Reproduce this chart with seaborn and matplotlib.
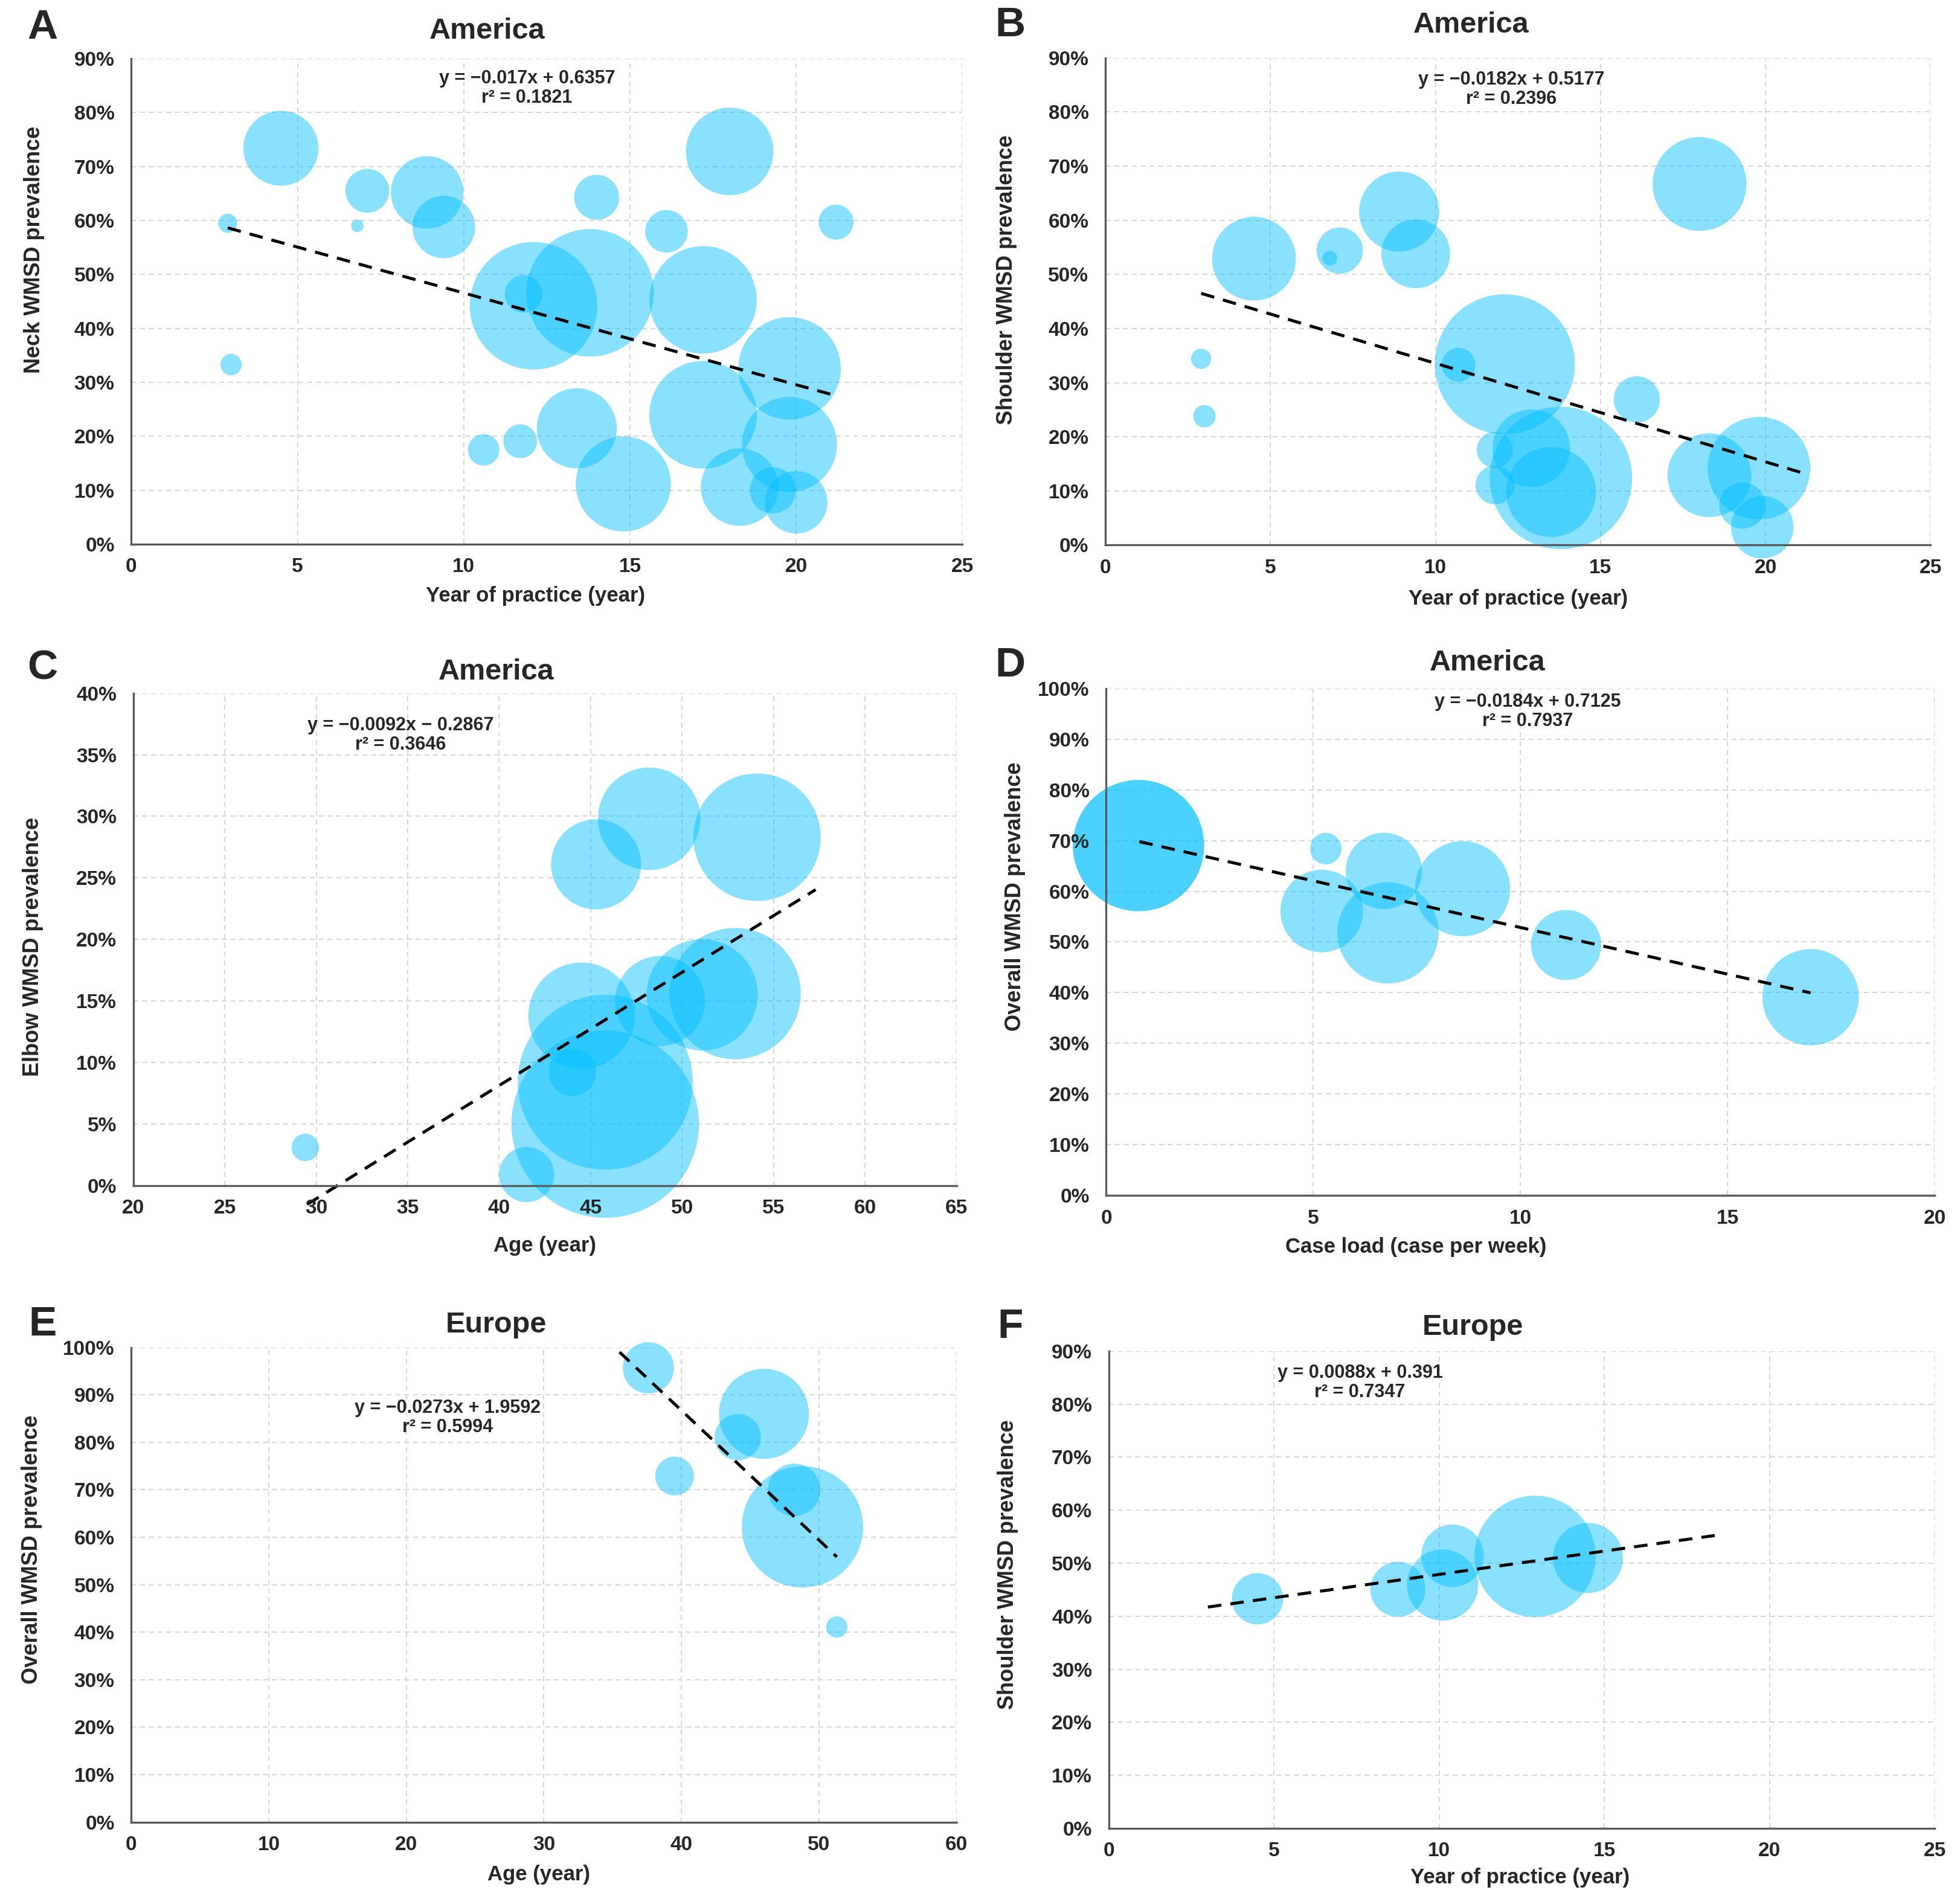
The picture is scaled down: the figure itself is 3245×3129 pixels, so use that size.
import matplotlib.pyplot as plt
import matplotlib.ticker as mticker
import numpy as np
import pandas as pd
import seaborn as sns

sns.set_style("white")
NARROW = ["Liberation Sans Narrow", "Liberation Sans", "DejaVu Sans"]
WIDE = ["Liberation Sans", "DejaVu Sans"]
plt.rcParams["font.family"] = NARROW
plt.rcParams["font.weight"] = "bold"
plt.rcParams["axes.axisbelow"] = False  # keep tick labels above the bubbles

# ---- data ----
# A: neck, America, year of practice
a_x = [2.9, 3.0, 4.5, 7.1, 6.8, 8.9, 9.4, 10.6, 11.7, 11.8, 12.1, 13.8, 13.4,
       14.0, 14.8, 16.1, 17.2, 17.2, 18.0, 18.3, 19.8, 19.8, 19.3, 20.0, 21.2]
a_y = [0.595, 0.333, 0.734, 0.655, 0.590, 0.652, 0.588, 0.175, 0.191, 0.464,
       0.442, 0.466, 0.215, 0.643, 0.112, 0.580, 0.453, 0.240, 0.728, 0.106,
       0.326, 0.185, 0.100, 0.078, 0.597]
a_n = [23, 29, 360, 123, 10, 336, 250, 63, 73, 90, 1040, 1040, 410, 130, 578,
       116, 740, 740, 490, 384, 672, 578, 137, 250, 78]

# B: shoulder, America, year of practice
b_x = [2.9, 3.0, 4.5, 7.1, 6.8, 8.9, 9.4, 10.7, 12.1, 11.8, 11.8, 12.9, 13.8,
       13.5, 16.1, 18.0, 18.3, 19.8, 19.3, 19.9]
b_y = [0.344, 0.238, 0.529, 0.544, 0.530, 0.616, 0.538, 0.333, 0.334, 0.176,
       0.111, 0.179, 0.124, 0.098, 0.269, 0.667, 0.129, 0.142, 0.073, 0.033]
b_n = [26, 32, 449, 137, 14, 410, 303, 73, 1254, 84, 96, 384, 1300, 518, 137,
       563, 449, 672, 137, 250]

# C: elbow, America, age
c_x = [29.4, 41.5, 45.3, 48.2, 54.1, 44.5, 44.0, 45.8, 45.8, 48.8, 51.1, 52.9]
c_y = [0.031, 0.009, 0.261, 0.298, 0.283, 0.138, 0.092, 0.084, 0.050, 0.150,
       0.155, 0.156]
c_n = [48, 194, 518, 672, 1040, 723, 144, 1960, 2250, 518, 792, 1103]

# D: overall, America, case load
d_x = [0.78, 0.78, 5.3, 5.2, 6.7, 6.8, 8.6, 11.1, 17.0]
d_y = [0.690, 0.690, 0.684, 0.561, 0.640, 0.518, 0.605, 0.494, 0.391]
d_n = [1103, 1103, 63, 436, 372, 656, 578, 314, 593]

# E: overall, Europe, age
e_x = [37.6, 39.5, 44.1, 46.0, 48.2, 48.8, 51.3]
e_y = [0.957, 0.729, 0.811, 0.860, 0.700, 0.622, 0.411]
e_n = [168, 96, 137, 518, 176, 941, 29]

# F: shoulder, Europe, year of practice
f_x = [4.5, 8.75, 10.1, 10.4, 12.9, 14.5]
f_y = [0.433, 0.451, 0.459, 0.514, 0.513, 0.510]
f_n = [168, 194, 325, 250, 941, 314]

# trend lines (coefficients and x range as printed / drawn)
fits = {
    "A": (-0.017, 0.6357, [2.9, 21.2]),
    "B": (-0.0182, 0.5177, [2.9, 21.3]),
    "C": (0.0092, -0.2867, [29.5, 57.3]),
    "D": (-0.0184, 0.7125, [0.8, 17.0]),
    "E": (-0.0273, 1.9592, [35.5, 51.3]),
    "F": (0.0088, 0.391, [3.0, 18.4]),
}
equations = {
    "A": "y = \u22120.017x + 0.6357\nr\u00b2 = 0.1821",
    "B": "y = \u22120.0182x + 0.5177\nr\u00b2 = 0.2396",
    "C": "y = \u22120.0092x \u2212 0.2867\nr\u00b2 = 0.3646",
    "D": "y = \u22120.0184x + 0.7125\nr\u00b2 = 0.7937",
    "E": "y = \u22120.0273x + 1.9592\nr\u00b2 = 0.5994",
    "F": "y = 0.0088x + 0.391\nr\u00b2 = 0.7347",
}

BUBBLE = "#00BFFF"
GRID = dict(color="#d8d8d8", lw=1.5, linestyle=(0, (4, 3)), zorder=0.3)
fig = plt.figure(figsize=(32.45, 31.29), dpi=100)


def panel(key, rect, x, y, n, xlim, xstep, ylim, ystep, xlabel, ylabel,
          eq_xy, xlab_xy, ylab_xy, title, title_xy, letter_xy):
    ax = fig.add_axes(rect)
    ax.set_axisbelow(False)
    df = pd.DataFrame({"x": x, "y": y, "n": n})
    sns.scatterplot(data=df, x="x", y="y", size="n", sizes=(0, 55500),
                    size_norm=(0, 2500), color=BUBBLE, alpha=0.46,
                    linewidth=0, edgecolor="none", legend=False,
                    clip_on=False, zorder=1, ax=ax)
    slope, icpt, xr = fits[key]
    xr = np.array(xr)
    ax.plot(xr, slope * xr + icpt, color="black", lw=3.6,
            linestyle=(0, (4.5, 3)), zorder=2, clip_on=False)
    ax.set_xlim(*xlim)
    ax.set_ylim(*ylim)
    ax.xaxis.set_major_locator(mticker.MultipleLocator(xstep))
    ax.yaxis.set_major_locator(mticker.MultipleLocator(ystep))
    ax.yaxis.set_major_formatter(mticker.PercentFormatter(1.0, decimals=0))
    # grid drawn below the bubbles, tick labels stay on top
    xt = [t for t in ax.get_xticks() if xlim[0] < t <= xlim[1] + 1e-9]
    yt = [t for t in ax.get_yticks() if ylim[0] < t <= ylim[1] + 1e-9]
    ax.vlines(xt, *ylim, **GRID)
    ax.hlines(yt, *xlim, **GRID)
    ax.set_xlim(*xlim)
    ax.set_ylim(*ylim)
    for s in ("top", "right"):
        ax.spines[s].set_visible(False)
    for s in ("left", "bottom"):
        ax.spines[s].set_color("#5a5a5a")
        ax.spines[s].set_linewidth(2.4)
    ax.tick_params(length=0, labelsize=24, pad=20)
    ax.tick_params(axis="x", pad=16)
    for lab in ax.get_xticklabels() + ax.get_yticklabels():
        lab.set_fontweight("bold")
    ax.set_xlabel(xlabel, fontsize=25, fontweight="bold")
    ax.xaxis.set_label_coords(*xlab_xy)
    ax.xaxis.label.set_va("center")
    ax.set_ylabel(ylabel, fontsize=26, fontweight="bold", family=WIDE)
    ax.yaxis.set_label_coords(*ylab_xy)
    ax.yaxis.label.set_va("center")
    ax.text(eq_xy[0], eq_xy[1], equations[key], ha="center", va="center",
            fontsize=22, fontweight="bold", linespacing=1.1, zorder=5)
    fig.text(title_xy[0], title_xy[1], title, ha="center", va="center",
             fontsize=35, fontweight="bold")
    fig.text(letter_xy[0], letter_xy[1], key, ha="center", va="center",
             fontsize=50, fontweight="bold", family=WIDE)
    return ax


panel("A", [0.067, 0.712, 0.424, 0.257], a_x, a_y, a_n, (0, 25), 5, (0, 0.9), 0.1,
      "Year of practice (year)", "Neck WMSD prevalence",
      (11.9, 0.845), (0.486, -0.106), (-0.117, 0.607),
      "America", (0.2487, 0.9834), (0.0217, 0.9854))
panel("B", [0.564, 0.7116, 0.421, 0.2578], b_x, b_y, b_n, (0, 25), 5, (0, 0.9), 0.1,
      "Year of practice (year)", "Shoulder WMSD prevalence",
      (12.3, 0.842), (0.5, -0.111), (-0.12, 0.544),
      "America", (0.7506, 0.9867), (0.5153, 0.9867))
panel("C", [0.068, 0.3727, 0.42, 0.2605], c_x, c_y, c_n, (20, 65), 5, (0, 0.4), 0.05,
      "Age (year)", "Elbow WMSD prevalence",
      (34.6, 0.366), (0.5, -0.122), (-0.122, 0.485),
      "America", (0.2532, 0.6445), (0.0217, 0.6465))
panel("D", [0.5644, 0.3674, 0.4228, 0.2684], d_x, d_y, d_n, (0, 20), 5, (0, 1.0), 0.1,
      "Case load (case per week)", "Overall WMSD prevalence",
      (10.17, 0.954), (0.374, -0.101), (-0.110, 0.59),
      "America", (0.759, 0.6492), (0.5153, 0.6478))
panel("E", [0.067, 0.0359, 0.421, 0.2512], e_x, e_y, e_n, (0, 60), 10, (0, 1.0), 0.1,
      "Age (year)", "Overall WMSD prevalence",
      (23.0, 0.852), (0.494, -0.111), (-0.121, 0.574),
      "Europe", (0.2532, 0.299), (0.0217, 0.299))
panel("F", [0.5657, 0.0326, 0.4215, 0.2525], f_x, f_y, f_n, (0, 25), 5, (0, 0.9), 0.1,
      "Year of practice (year)", "Shoulder WMSD prevalence",
      (7.6, 0.841), (0.498, -0.103), (-0.1225, 0.553),
      "Europe", (0.7513, 0.2977), (0.5153, 0.2977))

fig.savefig("out.png", dpi=100, facecolor="white")
